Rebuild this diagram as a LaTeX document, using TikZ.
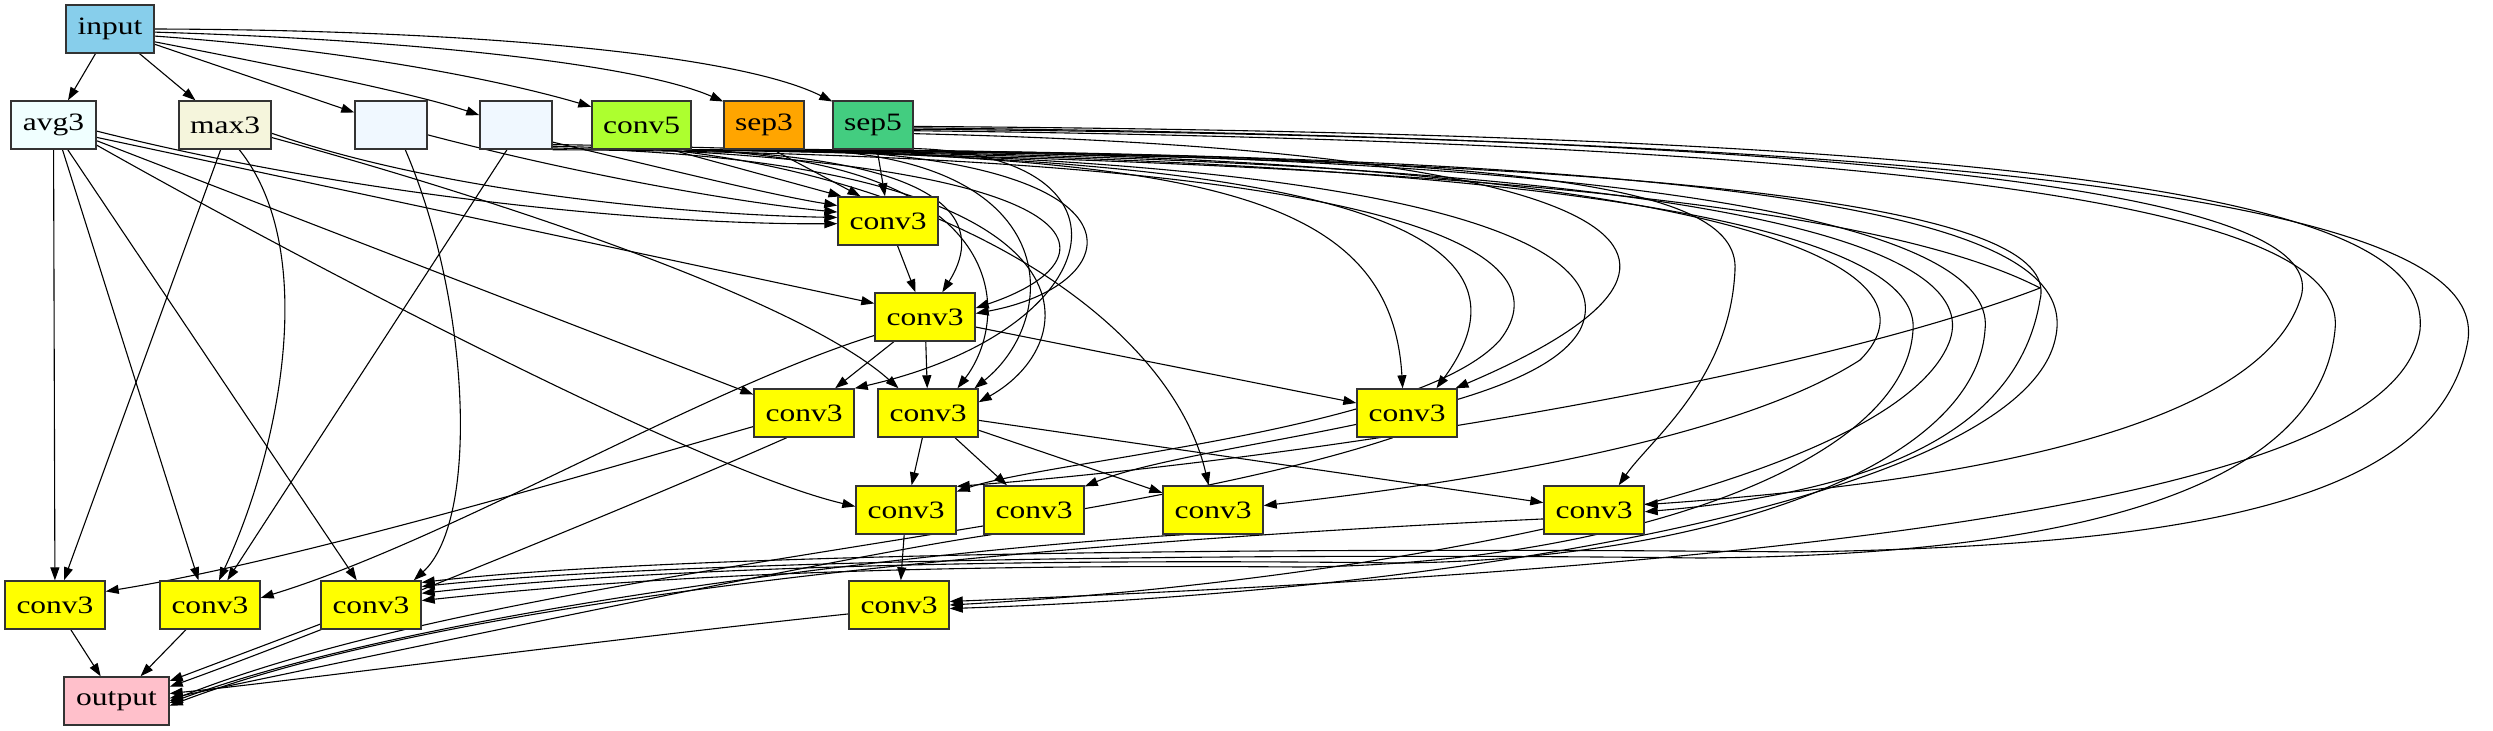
\documentclass[tikz,border=0pt]{standalone}
\usepackage{fontspec}
\setmainfont{Liberation Serif}
\usepackage{graphicx}
\usetikzlibrary{arrows.meta}
\definecolor{cskyblue}{RGB}{135,206,235}
\definecolor{cazure}{RGB}{240,255,255}
\definecolor{cbeige}{RGB}{245,245,220}
\definecolor{calice}{RGB}{240,248,255}
\definecolor{cgreenyellow}{RGB}{173,255,47}
\definecolor{corange}{RGB}{255,165,0}
\definecolor{cseagreen}{RGB}{67,205,128}
\definecolor{cyellow}{RGB}{255,255,0}
\definecolor{cpink}{RGB}{255,192,203}
\newcommand{\lb}[1]{\scalebox{1.26}[1]{#1}}
\pgfdeclarelayer{bg}
\pgfsetlayers{bg,main}
\begin{document}
\begin{tikzpicture}[x=1pt,y=-1pt,
  nd/.style={draw=black!80, line width=1.4pt, inner sep=0pt, minimum height=48pt, font=\fontsize{25}{27}\selectfont},
  cv/.style={nd, fill=cyellow, minimum width=100pt},
  ed/.style={-{Triangle[length=13pt,width=9pt]}, line width=1.1pt},
]
\useasboundingbox (0,0) rectangle (2493,731);
% nodes
\node[nd, fill=cskyblue, minimum width=88pt] (in) at (110,29) {\lb{input}};
\node[nd, fill=cazure, minimum width=85pt] (av) at (53.5,125) {\lb{avg3}};
\node[nd, fill=cbeige, minimum width=92pt] (mx) at (225,125) {\lb{max3}};
\node[nd, fill=calice, minimum width=72pt] (b1) at (391,125) {};
\node[nd, fill=calice, minimum width=72pt] (b2) at (516,125) {};
\node[nd, fill=cgreenyellow, minimum width=99pt] (c5) at (641.5,125) {\lb{conv5}};
\node[nd, fill=corange, minimum width=80pt] (s3) at (764,125) {\lb{sep3}};
\node[nd, fill=cseagreen, minimum width=80pt] (s5) at (873,125) {\lb{sep5}};
\node[cv] (A) at (888,221) {\lb{conv3}};
\node[cv] (B) at (925,317) {\lb{conv3}};
\node[cv] (C) at (804,413) {\lb{conv3}};
\node[cv] (D) at (928,413) {\lb{conv3}};
\node[cv] (E) at (1407,413) {\lb{conv3}};
\node[cv] (F) at (906,510) {\lb{conv3}};
\node[cv] (G) at (1034,510) {\lb{conv3}};
\node[cv] (H) at (1213,510) {\lb{conv3}};
\node[cv] (I) at (1594,510) {\lb{conv3}};
\node[cv] (J) at (55,605) {\lb{conv3}};
\node[cv] (K) at (210,605) {\lb{conv3}};
\node[cv] (L) at (371,605) {\lb{conv3}};
\node[cv] (M) at (899,605) {\lb{conv3}};
\node[nd, fill=cpink, minimum width=105pt] (O) at (116.5,701) {\lb{output}};
\begin{pgfonlayer}{bg}
% from input
\draw[ed] (in) -- (av);
\draw[ed] (in) -- (mx);
\draw[ed] (in) -- (b1);
\draw[ed] (in.-16) .. controls (300,70) and (420,95) .. (b2.165);
\draw[ed] (in.-9) .. controls (350,50) and (500,80) .. (c5.160);
\draw[ed] (in.-4) .. controls (420,40) and (640,65) .. (s3.150);
\draw[ed] (in.0) .. controls (480,30) and (740,55) .. (s5.150);
% A
\draw[ed] (av.-8) .. controls (350,195) and (650,225) .. (A.183);
\draw[ed] (mx.-10) .. controls (450,195) and (700,215) .. (A.176);
\draw[ed] (b1.-15) .. controls (600,180) and (760,205) .. (A.170);
\draw[ed] (b2.-25) .. controls (650,165) and (770,195) .. (A.163);
\draw[ed] (c5.-40) -- (A.152);
\draw[ed] (s3.-70) -- (A.138);
\draw[ed] (s5) -- (A.97);
% B
\draw[ed] (A) -- (B);
\draw[ed] (av.-16) -- (B.165);
\draw[ed] (c5.-28) .. controls (990,160) and (975,240) .. (B.55);
\draw[ed] (s3.-34) .. controls (1160,160) and (1130,285) .. (B.4);
\draw[ed] (b2.-30) .. controls (1120,160) and (1120,260) .. (B.10);
% C
\draw[ed] (B) -- (C);
\draw[ed] (av.-20) -- (C.160);
\draw[ed] (s5.-30) .. controls (1150,155) and (1110,330) .. (C.north east);
% D
\draw[ed] (B) -- (D);
\draw[ed] (mx.-15) .. controls (500,200) and (800,300) .. (D.140);
\draw[ed] (c5.-30) .. controls (1020,160) and (1010,320) .. (D.40);
\draw[ed] (s3.-36) .. controls (1070,155) and (1060,320) .. (D.28);
\draw[ed] (b2.-32) .. controls (1110,160) and (1090,340) .. (D.12);
% E
\draw[ed] (B) -- (E);
\draw[ed] (b2.-28) .. controls (1150,155) and (1390,170) .. (E.100);
\draw[ed] (c5.-29) .. controls (1300,155) and (1560,220) .. (E.40);
\draw[ed] (s5.-12) .. controls (1620,150) and (1780,250) .. (E.27);
% F
\draw[ed] (D) -- (F);
\draw[ed] (av.-25) .. controls (300,260) and (700,470) .. (F.176);
\draw[ed] (c5.-31) .. controls (1300,160) and (1850,190) .. (2040,288) .. controls (1800,380) and (1300,460) .. (F.25);
\draw[ed] (b2.-34) .. controls (1400,155) and (1570,250) .. (1500,340) .. controls (1420,430) and (1050,460) .. (F.20);
% G
\draw[ed] (D) -- (G);
\draw[ed] (c5.-27) .. controls (1450,155) and (1620,250) .. (1580,330) .. controls (1530,420) and (1200,440) .. (G.25);
% H
\draw[ed] (D) -- (H);
\draw[ed] (c5.-45) .. controls (950,180) and (1170,320) .. (H.100);
\draw[ed] (s3.-33) .. controls (1700,155) and (1960,260) .. (1860,360) .. controls (1720,450) and (1400,490) .. (H.5);
% I
\draw[ed] (D) -- (I);
\draw[ed] (s3.-32) .. controls (1500,155) and (1740,180) .. (1735,270) .. controls (1730,380) and (1650,440) .. (I.45);
\draw[ed] (s5.-4) .. controls (2100,140) and (2330,220) .. (2300,300) .. controls (2260,420) and (2000,480) .. (I.6);
\draw[ed] (c5.-28) .. controls (1800,155) and (2060,220) .. (2040,300) .. controls (2020,420) and (1900,490) .. (I.-2);
% M
\draw[ed] (F) -- (M);
\draw[ed] (s5.-2) .. controls (2200,135) and (2430,220) .. (2420,330) .. controls (2400,470) and (2000,560) .. (M.4);
\draw[ed] (c5.-29) .. controls (1750,155) and (1980,250) .. (1950,340) .. controls (1900,480) and (1400,580) .. (M.0);
\draw[ed] (s3.-35) .. controls (1900,155) and (2080,240) .. (2055,340) .. controls (2020,490) and (1500,590) .. (M.-4);
% L
\draw[ed] (av.-60) -- (L.120);
\draw[ed] (s5.-6) .. controls (2300,140) and (2480,250) .. (2468,340) .. controls (2440,500) and (2200,545) .. (1800,552) .. controls (1200,546) and (650,556) .. (L.24);
\draw[ed] (s5.-8) .. controls (2150,145) and (2345,240) .. (2335,330) .. controls (2320,480) and (2100,555) .. (1700,558) .. controls (1200,552) and (650,562) .. (L.20);
\draw[ed] (s3.-31) .. controls (1800,155) and (1995,250) .. (1985,330) .. controls (1975,470) and (1700,560) .. (1400,563) .. controls (1000,558) and (650,568) .. (L.13);
\draw[ed] (c5.-30) .. controls (1700,158) and (1920,250) .. (1913,330) .. controls (1905,470) and (1600,565) .. (1300,567) .. controls (900,564) and (650,576) .. (L.5);
\draw[ed] (b1.-60) .. controls (470,300) and (480,520) .. (L.30);
% K
\draw[ed] (av.-70) -- (K.115);
\draw[ed] (mx.-60) .. controls (320,250) and (280,450) .. (K.70);
\draw[ed] (b2.-110) -- (K.55);
\draw[ed] (B.200) .. controls (700,390) and (450,540) .. (K.8);
% J
\draw[ed] (av) -- (J);
\draw[ed] (mx.-100) -- (J.70);
\draw[ed] (C.195) .. controls (600,470) and (300,560) .. (J.15);
% output
\draw[ed] (J) -- (O);
\draw[ed] (K) -- (O);
\draw[ed] (L) -- (O);
\draw[ed] (M.190) .. controls (600,640) and (300,680) .. (O.8);
\draw[ed] (C.235) .. controls (600,520) and (300,640) .. (O.15);
\draw[ed] (G.210) .. controls (850,555) and (400,650) .. (O.3);
\draw[ed] (H.220) .. controls (1000,545) and (450,600) .. (O.-2);
\draw[ed] (E.240) .. controls (1100,535) and (500,570) .. (O.0);
\draw[ed] (I.190) .. controls (1200,535) and (500,580) .. (O.-5);
\end{pgfonlayer}
\end{tikzpicture}
\end{document}
